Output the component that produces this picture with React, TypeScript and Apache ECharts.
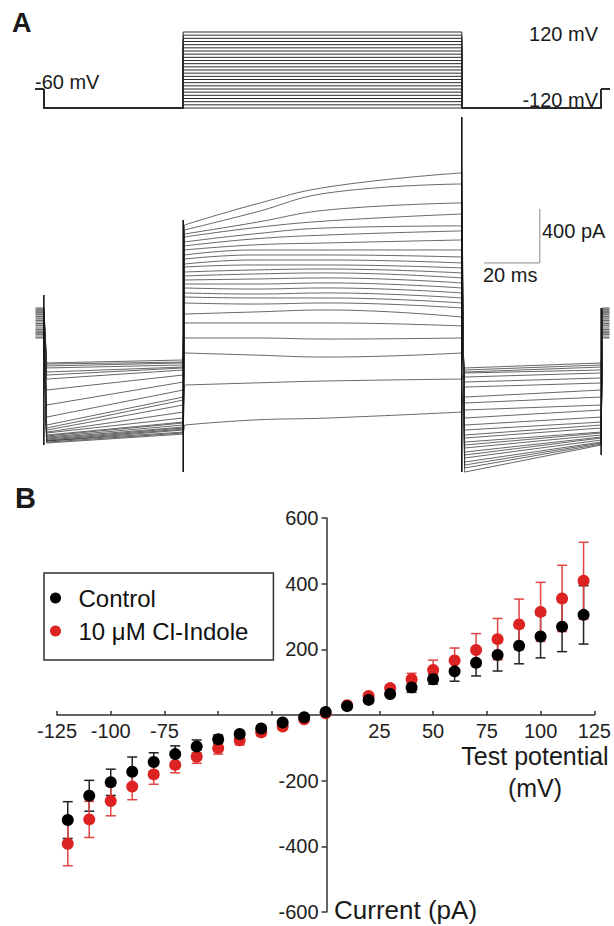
import React, { useEffect, useRef } from "react";
import * as echarts from "echarts";

const FONT = '"Liberation Sans", Arial, Helvetica, sans-serif';

// ---------- Panel A: voltage protocol ----------
const SWEEP_MV = [-120, -110, -100, -90, -80, -70, -60, -50, -40, -30, -20, -10, 0, 10, 20, 30, 40, 50, 60, 70, 80, 90, 100, 110, 120];
const PROTOCOL_T = [-3, 0, 50, 150, 200, 203];
const HOLDING_MV = -60;
const CONDITIONING_MV = -120;

// ---------- Panel A: current traces (pA), one entry per sweep (ascending SWEEP_MV) ----------
const PRE_T = [-3, 0, 1, 50, 50.5];
const STEP_T = [50.5, 75, 102, 150];
const POST_T = [150, 151, 200, 200.5, 203];
const HOLD_PA = [-59, -52, -37, -30, -22, -15, -7, 4, 15, 30, 37, 48, 59, 70, 81, 89, 100, 111, 118, 126, 133, 140, 148, 155, 163];
const PRE_START_PA = [-836, -829, -821, -821, -814, -807, -799, -792, -784, -777, -762, -755, -740, -725, -703, -644, -555, -444, -363, -333, -311, -281, -266, -252, -244];
const PRE_END_PA = [-770, -762, -755, -740, -733, -725, -718, -703, -688, -681, -651, -607, -555, -518, -496, -444, -385, -333, -296, -281, -274, -259, -244, -237, -222];
const STEP_START_PA = [-703, -407, -170, -59, 52, 118, 200, 244, 274, 311, 340, 370, 400, 429, 466, 488, 525, 555, 592, 622, 651, 688, 710, 740, 777];
const STEP_75_PA = [-666, -392, -185, -59, 52, 133, 192, 237, 266, 303, 340, 377, 414, 444, 481, 518, 555, 592, 629, 673, 710, 755, 792, 866, 925];
const STEP_102_PA = [-651, -377, -200, -67, 52, 148, 200, 237, 274, 311, 348, 385, 422, 451, 481, 518, 555, 592, 644, 703, 755, 807, 888, 1014, 1058];
const STEP_END_PA = [-607, -363, -170, -59, 30, 96, 163, 200, 237, 274, 311, 348, 385, 422, 459, 496, 540, 592, 666, 733, 770, 858, 940, 1080, 1162];
const TAIL_START_PA = [-281, -296, -311, -318, -348, -385, -422, -496, -540, -592, -651, -703, -740, -777, -799, -829, -851, -873, -903, -925, -947, -977, -999, -1021, -1051];
const TAIL_END_PA = [-244, -259, -274, -296, -318, -355, -392, -444, -496, -555, -592, -644, -681, -703, -725, -755, -762, -777, -792, -799, -814, -829, -836, -844, -851];

// capacitive transients
const TRANSIENT_T = [0, 50, 150, 200];
const TRANSIENT_HIGH_PA = [259, 814, 1576, 163];
const TRANSIENT_LOW_PA = [-851, -1051, -1051, -925];

// scale bar
const SCALE_T0 = 158;
const SCALE_I0 = 496;
const SCALE_MS = 20;
const SCALE_PA = 400;

// ---------- Panel B: I–V ----------
const IV_MV = [-120, -110, -100, -90, -80, -70, -60, -50, -40, -30, -20, -10, 0, 10, 20, 30, 40, 50, 60, 70, 80, 90, 100, 110, 120];
const CONTROL_PA = [-320, -246, -205, -173, -143, -119, -96, -74, -58, -41, -23, -7, 9, 27, 46, 64, 84, 109, 133, 159, 183, 211, 239, 269, 305];
const CONTROL_SEM = [56, 47, 40, 45, 28, 25, 20, 13, 10, 8, 6, 5, 5, 5, 6, 8, 15, 15, 30, 40, 49, 55, 65, 76, 89];
const INDOLE_PA = [-392, -318, -262, -218, -181, -152, -127, -101, -77, -53, -35, -13, 5, 30, 58, 82, 109, 137, 166, 198, 231, 276, 314, 355, 409];
const INDOLE_SEM = [67, 55, 45, 40, 30, 24, 20, 18, 14, 10, 8, 6, 5, 6, 8, 10, 18, 30, 38, 50, 63, 77, 90, 101, 117];
const X_TICKS_HIDDEN = [-50, -25, 0];
const Y_TICKS_HIDDEN = [0];
const IV_X_MIN = -125;
const IV_X_MAX = 125;
const IV_Y_MIN = -600;
const IV_Y_MAX = 600;

const BLACK = "#000000";
const RED = "#dd2222";
const RED_BAR = "#e04444";

// grid of panel B (layout)
const B_LEFT = 57;
const B_WIDTH = 539;
const B_TOP = 518;
const B_HEIGHT = 394;

function errorSeries(name: string, mean: number[], sem: number[], color: string, z: number) {
  return {
    type: "custom",
    name,
    xAxisIndex: 2,
    yAxisIndex: 2,
    z,
    silent: true,
    clip: false,
    data: IV_MV.map((v, i) => [v, mean[i], sem[i]]),
    encode: { x: 0, y: 1 },
    renderItem: (_params: any, api: any) => {
      const x = api.value(0);
      const m = api.value(1);
      const e = api.value(2);
      const top = api.coord([x, m + e]);
      const bot = api.coord([x, m - e]);
      const cap = 5;
      const style = { stroke: color, lineWidth: 1.5 };
      return {
        type: "group",
        children: [
          { type: "line", shape: { x1: top[0], y1: top[1], x2: bot[0], y2: bot[1] }, style },
          { type: "line", shape: { x1: top[0] - cap, y1: top[1], x2: top[0] + cap, y2: top[1] }, style },
          { type: "line", shape: { x1: bot[0] - cap, y1: bot[1], x2: bot[0] + cap, y2: bot[1] }, style },
        ],
      };
    },
  };
}

function txt(text: string, x: number, y: number, size: number, align: string = "left", weight: string = "normal") {
  return {
    type: "text",
    x,
    y,
    silent: true,
    style: {
      text,
      fontSize: size,
      fontFamily: FONT,
      fontWeight: weight,
      fill: "#1a1a1a",
      align,
      textAlign: align,
      verticalAlign: "middle",
      textVerticalAlign: "middle",
    },
  };
}

function traceLine(data: number[][], smooth: number) {
  return {
    type: "line",
    xAxisIndex: 1,
    yAxisIndex: 1,
    showSymbol: false,
    silent: true,
    clip: false,
    smooth,
    lineStyle: { color: "rgba(45,45,45,0.72)", width: 1 },
    data,
  };
}

export default function App() {
  const ref = useRef<HTMLDivElement>(null);

  useEffect(() => {
    if (!ref.current) return;
    const chart = echarts.init(ref.current, undefined, { renderer: "svg" });

    const protocolSeries = SWEEP_MV.map((v) => ({
      type: "line",
      xAxisIndex: 0,
      yAxisIndex: 0,
      showSymbol: false,
      silent: true,
      clip: false,
      lineStyle: { color: "#2a2a2a", width: 1 },
      data: [
        [PROTOCOL_T[0], HOLDING_MV],
        [PROTOCOL_T[1], HOLDING_MV],
        [PROTOCOL_T[1], CONDITIONING_MV],
        [PROTOCOL_T[2], CONDITIONING_MV],
        [PROTOCOL_T[2], v],
        [PROTOCOL_T[3], v],
        [PROTOCOL_T[3], CONDITIONING_MV],
        [PROTOCOL_T[4], CONDITIONING_MV],
        [PROTOCOL_T[4], HOLDING_MV],
        [PROTOCOL_T[5], HOLDING_MV],
      ],
    }));

    const traceSeries: any[] = [];
    SWEEP_MV.forEach((_v, i) => {
      const pre = [HOLD_PA[i], HOLD_PA[i], PRE_START_PA[i], PRE_END_PA[i], STEP_START_PA[i]];
      const step = [STEP_START_PA[i], STEP_75_PA[i], STEP_102_PA[i], STEP_END_PA[i]];
      const post = [STEP_END_PA[i], TAIL_START_PA[i], TAIL_END_PA[i], HOLD_PA[i], HOLD_PA[i]];
      traceSeries.push(traceLine(PRE_T.map((t, k) => [t, pre[k]]), 0));
      traceSeries.push(traceLine(STEP_T.map((t, k) => [t, step[k]]), 0.45));
      traceSeries.push(traceLine(POST_T.map((t, k) => [t, post[k]]), 0));
    });

    const transientSeries = TRANSIENT_T.map((t, i) => ({
      type: "line",
      xAxisIndex: 1,
      yAxisIndex: 1,
      showSymbol: false,
      silent: true,
      clip: false,
      lineStyle: { color: "#111", width: 1.6 },
      data: [
        [t, TRANSIENT_HIGH_PA[i]],
        [t, TRANSIENT_LOW_PA[i]],
      ],
    }));

    const scaleBar = {
      type: "line",
      xAxisIndex: 1,
      yAxisIndex: 1,
      showSymbol: false,
      silent: true,
      clip: false,
      lineStyle: { color: "#8a8a8a", width: 1 },
      data: [
        [SCALE_T0, SCALE_I0],
        [SCALE_T0 + SCALE_MS, SCALE_I0],
        [SCALE_T0 + SCALE_MS, SCALE_I0 + SCALE_PA],
      ],
    };

    const axisColor = "#333";
    // axes cross at zero: shift them from the grid edges to the zero lines
    const xAxisOffset = -((0 - IV_Y_MIN) / (IV_Y_MAX - IV_Y_MIN)) * B_HEIGHT;
    const yAxisOffset = -((0 - IV_X_MIN) / (IV_X_MAX - IV_X_MIN)) * B_WIDTH;

    chart.setOption({
      animation: false,
      backgroundColor: "#ffffff",
      textStyle: { fontFamily: FONT },
      grid: [
        { left: 35.5, width: 574, top: 32, height: 76 },
        { left: 35.5, width: 574, top: 113.7, height: 365 },
        { left: B_LEFT, width: B_WIDTH, top: B_TOP, height: B_HEIGHT },
      ],
      xAxis: [
        { gridIndex: 0, type: "value", min: -3, max: 203, show: false },
        { gridIndex: 1, type: "value", min: -3, max: 203, show: false },
        {
          gridIndex: 2,
          type: "value",
          position: "bottom",
          offset: xAxisOffset,
          min: IV_X_MIN,
          max: IV_X_MAX,
          interval: 25,
          splitLine: { show: false },
          axisLine: { onZero: false, lineStyle: { color: axisColor, width: 1.5 } },
          axisTick: { inside: true, length: 4, lineStyle: { color: axisColor, width: 1.5 } },
          axisLabel: {
            fontSize: 20,
            color: "#222",
            fontFamily: FONT,
            margin: 6,
            formatter: (v: number) => (X_TICKS_HIDDEN.includes(v) ? "" : String(v)),
          },
        },
      ],
      yAxis: [
        { gridIndex: 0, type: "value", min: -120, max: 120, show: false },
        { gridIndex: 1, type: "value", min: -1100, max: 1600, show: false },
        {
          gridIndex: 2,
          type: "value",
          position: "left",
          offset: yAxisOffset,
          min: IV_Y_MIN,
          max: IV_Y_MAX,
          interval: 200,
          splitLine: { show: false },
          axisLine: { onZero: false, lineStyle: { color: axisColor, width: 1.5 } },
          axisTick: { inside: false, length: 5, lineStyle: { color: axisColor, width: 1.5 } },
          axisLabel: {
            fontSize: 20,
            color: "#222",
            fontFamily: FONT,
            margin: 8,
            formatter: (v: number) => (Y_TICKS_HIDDEN.includes(v) ? "" : String(v)),
          },
        },
      ],
      legend: {
        data: ["Control", "10 μM Cl-Indole"],
        orient: "vertical",
        left: 44,
        top: 573,
        padding: [11, 25, 15, 6],
        itemGap: 5,
        itemWidth: 14,
        itemHeight: 11,
        icon: "circle",
        borderColor: "#333",
        borderWidth: 1.5,
        selectedMode: false,
        textStyle: {
          fontSize: 24,
          fontFamily: FONT,
          color: "#111",
          lineHeight: 28,
          padding: [0, 0, 0, 11],
        },
      },
      graphic: [
        txt("A", 12, 23, 27, "left", "bold"),
        txt("-60 mV", 35, 82, 20),
        txt("120 mV", 598, 34, 20, "right"),
        txt("-120 mV", 598, 100, 20, "right"),
        txt("400 pA", 542, 231, 20),
        txt("20 ms", 483, 275, 20),
        txt("B", 15, 498, 29, "left", "bold"),
        txt("Test potential", 535, 756, 25, "center"),
        txt("(mV)", 535, 788, 25, "center"),
        txt("Current (pA)", 334, 910, 26),
      ],
      series: [
        ...protocolSeries,
        ...traceSeries,
        ...transientSeries,
        scaleBar,
        errorSeries("ctrlErr", CONTROL_PA, CONTROL_SEM, "#222", 2),
        errorSeries("indoleErr", INDOLE_PA, INDOLE_SEM, RED_BAR, 2),
        {
          type: "scatter",
          name: "10 μM Cl-Indole",
          xAxisIndex: 2,
          yAxisIndex: 2,
          z: 3,
          symbol: "circle",
          symbolSize: 12,
          silent: true,
          clip: false,
          itemStyle: { color: RED, opacity: 1 },
          data: IV_MV.map((v, i) => [v, INDOLE_PA[i]]),
        },
        {
          type: "scatter",
          name: "Control",
          xAxisIndex: 2,
          yAxisIndex: 2,
          z: 4,
          symbol: "circle",
          symbolSize: 12,
          silent: true,
          clip: false,
          itemStyle: { color: BLACK, opacity: 1 },
          data: IV_MV.map((v, i) => [v, CONTROL_PA[i]]),
        },
      ],
    });

    return () => chart.dispose();
  }, []);

  return (
    <div
      ref={ref}
      style={{ position: "absolute", left: 0, top: 0, width: 614, height: 926, background: "#fff" }}
    />
  );
}
